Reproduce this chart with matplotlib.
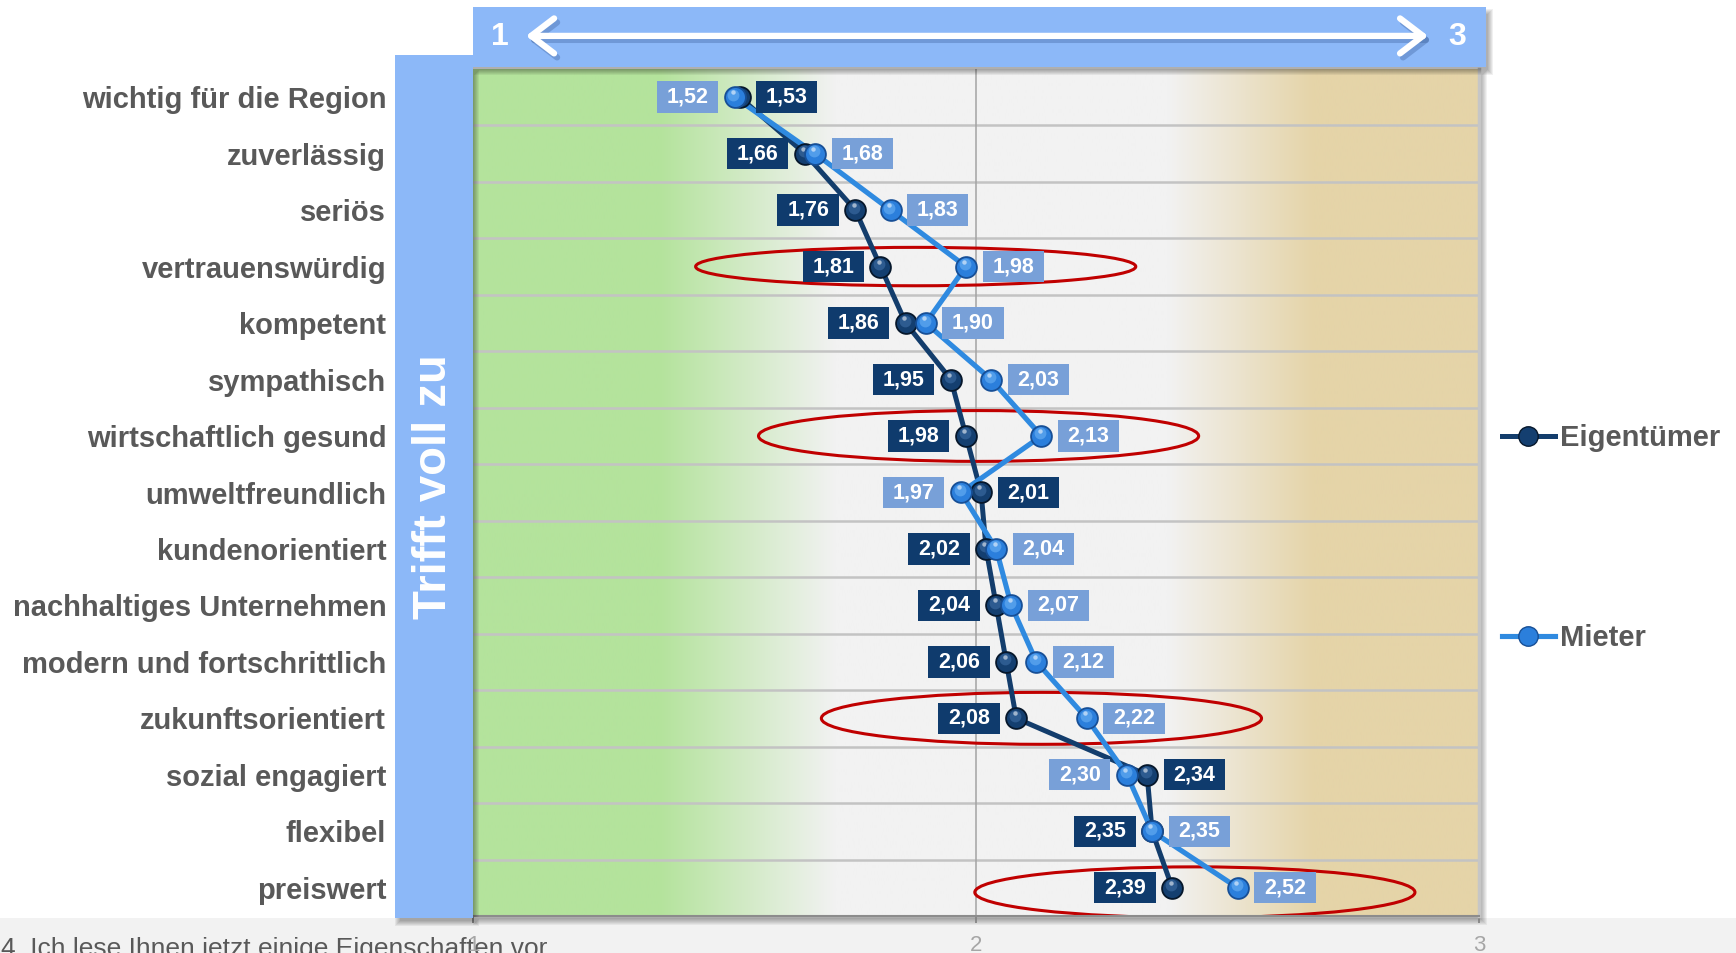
import numpy as np
import matplotlib
matplotlib.use('Agg')
import matplotlib.pyplot as plt
import matplotlib.transforms as mtrans
from matplotlib.patches import Rectangle, Ellipse
from matplotlib.path import Path
from matplotlib.lines import Line2D
from matplotlib.colors import to_rgb

plt.rcParams['font.family'] = ['Liberation Sans', 'DejaVu Sans']

# Eigenschaften und Mittelwerte (Skala 1 = trifft voll zu ... 3)
eigenschaften = ['wichtig für die Region', 'zuverlässig', 'seriös', 'vertrauenswürdig',
                 'kompetent', 'sympathisch', 'wirtschaftlich gesund', 'umweltfreundlich',
                 'kundenorientiert', 'nachhaltiges Unternehmen', 'modern und fortschrittlich',
                 'zukunftsorientiert', 'sozial engagiert', 'flexibel', 'preiswert']
eigentuemer = [1.53, 1.66, 1.76, 1.81, 1.86, 1.95, 1.98, 2.01, 2.02, 2.04, 2.06, 2.08, 2.34, 2.35, 2.39]
mieter = [1.52, 1.68, 1.83, 1.98, 1.90, 2.03, 2.13, 1.97, 2.04, 2.07, 2.12, 2.22, 2.30, 2.35, 2.52]
markiert = ['vertrauenswürdig', 'wirtschaftlich gesund', 'zukunftsorientiert', 'preiswert']
skala = [1, 2, 3]
fragetext = '4. Ich lese Ihnen jetzt einige Eigenschaften vor'

# Farben
GRUEN, GRAU, BEIGE = '#b4e39c', '#f2f2f2', '#e5d4a8'
BLAU_BAND = '#8cb8f8'
NAVY, NAVY_BOX = '#133d6c', '#0f3b6d'
HELLBLAU, HELLBLAU_BOX = '#2f8ae0', '#78a0d8'
TEXTGRAU = '#595959'

W, H = 1736, 953
fig = plt.figure(figsize=(W / 100 + 0.001, H / 100 + 0.001), dpi=100)

# Hintergrund-Ebene (Pixelkoordinaten)
bg = fig.add_axes([0, 0, 1, 1], zorder=0)
bg.set_xlim(0, W)
bg.set_ylim(H, 0)
bg.axis('off')
# Pixelgrenzen des Diagrammbereichs
PL, PR, PT, PB = 473, 1479, 69, 916


def schatten(ax, x, y, w, h, dx=5, dy=6, n=7, alpha=0.05):
    for i in range(n):
        ax.add_patch(Rectangle((x + dx - i + 2, y + dy - i + 2), w + 2 * i - 4, h + 2 * i - 4,
                               facecolor='black', edgecolor='none', alpha=alpha))


bg.add_patch(Rectangle((0, 918), W, H - 918, facecolor='#f2f2f2', edgecolor='none'))
schatten(bg, PL, PT, PR - PL, PB - PT, dx=4, dy=5)
bg.text(1, 956, fragetext, fontsize=19, color=TEXTGRAU, ha='left', va='baseline')

# Diagramm
ax = fig.add_axes([PL / W, 1 - PB / H, (PR - PL) / W, (PB - PT) / H], zorder=1)
n = len(eigenschaften)
ypos = np.arange(n)
ax.set_xlim(1, 3)
ax.set_ylim(n - 0.5, -0.5)

# Farbverlauf grün -> grau -> beige
stops_x = [1.0, 1.37, 1.72, 2.38, 2.67, 3.0]
stops_c = [GRUEN, GRUEN, GRAU, GRAU, BEIGE, BEIGE]
xs = np.linspace(1, 3, 1000)
rgb = np.array([to_rgb(c) for c in stops_c])
img = np.stack([np.interp(xs, stops_x, rgb[:, k]) for k in range(3)], axis=-1)[None, :, :]
ax.imshow(img, extent=[1, 3, n - 0.5, -0.5], aspect='auto', interpolation='bilinear', zorder=0)

ax.hlines(np.arange(0.5, n - 0.5, 1), 1, 3, color='#c3c3c3', lw=1.8, zorder=1)
ax.axvline(2, color='#a3a3a3', lw=1.1, zorder=1)

# Markierte Eigenschaften einkreisen
ellipse_mitte = [1.88, 2.005, 2.13, 2.435]
ellipse_hoehe = [0.68, 0.9, 0.92, 0.9]
for name, mx, hh in zip(markiert, ellipse_mitte, ellipse_hoehe):
    i = eigenschaften.index(name)
    ax.add_patch(Ellipse((mx, i + (0.08 if i == n - 1 else 0)), 0.875, hh, facecolor='none',
                         edgecolor='#c00000', lw=2.2, zorder=2))

ax.plot(eigentuemer, ypos, color=NAVY, lw=3.6, zorder=3, solid_capstyle='round')
ax.plot(mieter, ypos, color=HELLBLAU, lw=3.7, zorder=3.1, solid_capstyle='round')


def kugeln(x, y, farbe, hell, dunkel, z):
    ax.plot(x, y, 'o', ls='none', ms=15, mfc=farbe, mec=dunkel, mew=1.3, zorder=z)
    t1 = mtrans.offset_copy(ax.transData, fig=fig, x=-0.8, y=1.8, units='points')
    ax.plot(x, y, 'o', ls='none', ms=8.5, mfc=hell, mec='none', alpha=0.6, transform=t1, zorder=z + 0.01)
    t2 = mtrans.offset_copy(ax.transData, fig=fig, x=-1.2, y=3.6, units='points')
    ax.plot(x, y, 'o', ls='none', ms=3.2, mfc='white', mec='none', alpha=0.55, transform=t2, zorder=z + 0.02)


kugeln(eigentuemer, ypos, '#143f70', '#3f6ea6', '#06172b', 4)
kugeln(mieter, ypos, '#2b7fdc', '#6cb2f4', '#174f96', 4.1)


def etikett_box(x0, y0, width, height, mutation_size):
    px, py = 0.45 * mutation_size, 0.24 * mutation_size
    return Path([(x0 - px, y0 - py), (x0 + width + px, y0 - py),
                 (x0 + width + px, y0 + height + py), (x0 - px, y0 + height + py),
                 (x0 - px, y0 - py)], closed=True)


def etikett(wert, y, seite, box):
    ax.annotate(f'{wert:.2f}'.replace('.', ','), (wert, y), xytext=(seite * 34, 0),
                textcoords='offset points', ha='center', va='center', fontsize=15.5,
                fontweight='bold', color='white', zorder=6,
                bbox=dict(boxstyle=etikett_box, facecolor=box, edgecolor='none'))


for i in range(n):
    s = -1 if eigentuemer[i] <= mieter[i] else 1
    etikett(eigentuemer[i], i, s, NAVY_BOX)
    etikett(mieter[i], i, -s, HELLBLAU_BOX)

ax.set_yticks(ypos)
ax.set_yticklabels(eigenschaften, fontsize=21, fontweight='bold', color=TEXTGRAU)
ax.tick_params(axis='y', length=0, pad=62.5)
ax.set_xticks(skala)
ax.set_xticklabels([str(s) for s in skala], fontsize=16, color='#a6a6a6')
ax.tick_params(axis='x', length=5, width=1.2, color='#808080', pad=8.5)
for sp in ['top', 'left']:
    ax.spines[sp].set_visible(False)
ax.spines['bottom'].set_color('#8c8c8c')
ax.spines['bottom'].set_linewidth(1.5)
ax.spines['right'].set_color('#c6c6c6')
ax.spines['right'].set_linewidth(2.5)

# Vordergrund: Skalenkopf und seitliches Band
fg = fig.add_axes([0, 0, 1, 1], zorder=2)
fg.set_xlim(0, W)
fg.set_ylim(H, 0)
fg.axis('off')
fg.patch.set_visible(False)

schatten(fg, 395, 55, PL - 395, 918 - 55, dx=3, dy=5, n=6, alpha=0.06)
fg.add_patch(Rectangle((395, 55), PL - 395, 918 - 55, facecolor=BLAU_BAND, edgecolor='none'))
fg.text(434, 487, 'Trifft voll zu', rotation=90, ha='center', va='center', fontsize=34,
        fontweight='bold', color='white')

schatten(fg, PL, 7, 1486 - PL, 60, dx=4, dy=5, n=6, alpha=0.06)
fg.add_patch(Rectangle((PL, 7), 1486 - PL, 60, facecolor=BLAU_BAND, edgecolor='none'))
pfeil = '<->,head_length=0.55,head_width=0.42'
fg.annotate('', xy=(1431, 40), xytext=(529, 40),
            arrowprops=dict(arrowstyle=pfeil, lw=4.5, color='#3a5f9a', alpha=0.35,
                            mutation_scale=30, shrinkA=0, shrinkB=0, capstyle='round'))
fg.annotate('', xy=(1428, 36), xytext=(526, 36),
            arrowprops=dict(arrowstyle=pfeil, lw=4.5, color='white',
                            mutation_scale=30, shrinkA=0, shrinkB=0, capstyle='round'))
fg.text(500, 37, str(skala[0]), ha='center', va='center', fontsize=23, fontweight='bold', color='white')
fg.text(1457, 37, str(skala[-1]), ha='center', va='center', fontsize=23, fontweight='bold', color='white')

# Legende
h_e = Line2D([], [], color=NAVY, lw=3.6, marker='o', ms=14, mfc='#143f70', mec='#06172b')
h_m = Line2D([], [], color=HELLBLAU, lw=3.7, marker='o', ms=14, mfc='#2b7fdc', mec='#174f96')
fig.legend([h_e, h_m], ['Eigentümer', 'Mieter'], loc='center left',
           bbox_to_anchor=(1502 / W, 1 - 538 / H), frameon=False,
           prop={'weight': 'bold', 'size': 21}, labelcolor=TEXTGRAU,
           labelspacing=5.9, handlelength=1.8, handletextpad=0.2,
           borderpad=0, borderaxespad=0)

fig.savefig('out.png', dpi=100)
